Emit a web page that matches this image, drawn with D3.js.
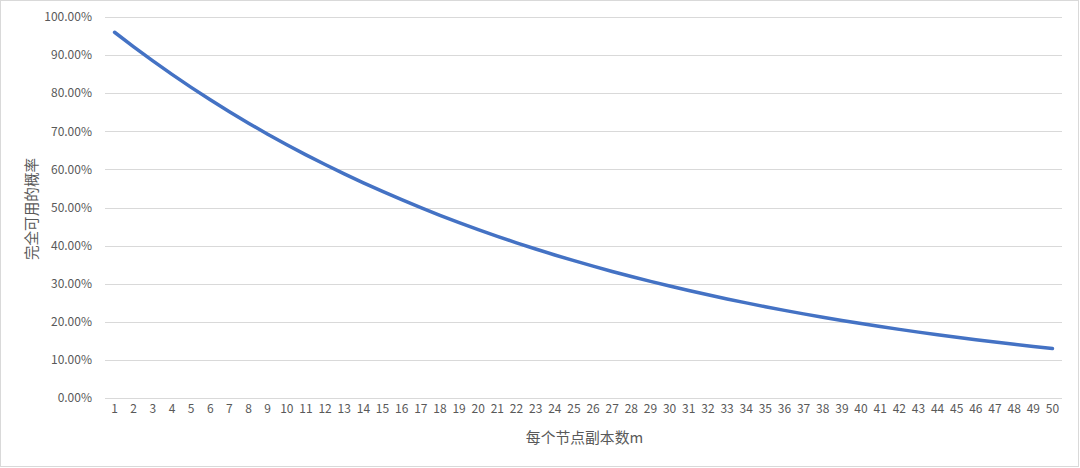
<!DOCTYPE html>
<html><head><meta charset="utf-8">
<script src="https://cdn.jsdelivr.net/npm/d3@7/dist/d3.min.js"></script>
<style>body{margin:0;background:#fff}svg{display:block}</style>
</head><body><svg id="c" width="1080" height="468"></svg>
<script>
const categories = d3.range(1, 51);
const values = [0.9600,0.9216,0.8847,0.8493,0.8154,0.7828,0.7514,0.7214,0.6925,0.6648,
0.6382,0.6127,0.5882,0.5647,0.5421,0.5204,0.4996,0.4796,0.4604,0.4420,
0.4243,0.4073,0.3911,0.3754,0.3604,0.3460,0.3321,0.3189,0.3061,0.2939,
0.2821,0.2708,0.2600,0.2496,0.2396,0.2300,0.2208,0.2120,0.2035,0.1954,
0.1876,0.1801,0.1729,0.1659,0.1593,0.1529,0.1468,0.1409,0.1353,0.1299];
const yTicks = [0,0.1,0.2,0.3,0.4,0.5,0.6,0.7,0.8,0.9,1.0];
const xTitle = "每个节点副本数m";
const yTitle = "完全可用的概率";

const svg = d3.select("#c");
const font = "'Noto Sans CJK SC','Liberation Sans',sans-serif";
svg.append("rect").attr("x",0.5).attr("y",0.5).attr("width",1078).attr("height",466)
  .attr("fill","#fff").attr("stroke","#d9d9d9");

const L=105,R=1062,T=17,B=398;
const x = d3.scaleBand().domain(categories).range([L,R]);
const y = d3.scaleLinear().domain([0,1]).range([B,T]);

svg.append("g").selectAll("line").data(yTicks).join("line")
  .attr("x1",L).attr("x2",R).attr("y1",d=>Math.round(y(d))+0.5).attr("y2",d=>Math.round(y(d))+0.5)
  .attr("stroke","#d9d9d9").attr("stroke-width",1);

svg.append("g").selectAll("text").data(yTicks).join("text")
  .attr("x",92).attr("y",d=>y(d)).attr("dy","0.35em").attr("text-anchor","end")
  .attr("font-family",font).attr("font-size",12).attr("fill","#595959")
  .text(d=>(d*100).toFixed(2)+"%");

svg.append("g").selectAll("text").data(categories).join("text")
  .attr("x",d=>x(d)+x.bandwidth()/2).attr("y",409).attr("dy","0.35em").attr("text-anchor","middle")
  .attr("font-family",font).attr("font-size",12).attr("fill","#595959")
  .text(d=>d);

const line = d3.line().x((d,i)=>x(categories[i])+x.bandwidth()/2).y(d=>y(d));
svg.append("path").datum(values).attr("d",line).attr("fill","none")
  .attr("stroke","#4472c4").attr("stroke-width",3.5).attr("stroke-linecap","round").attr("stroke-linejoin","round");

svg.append("text").attr("x",(L+R)/2+1).attr("y",438).attr("dy","0.35em").attr("text-anchor","middle")
  .attr("font-family",font).attr("font-size",14.8).attr("fill","#595959").text(xTitle);
svg.append("text").attr("transform","translate(32,209) rotate(-90)").attr("dy","0.35em")
  .attr("text-anchor","middle").attr("font-family",font).attr("font-size",14.6).attr("fill","#595959").text(yTitle);
</script></body></html>
